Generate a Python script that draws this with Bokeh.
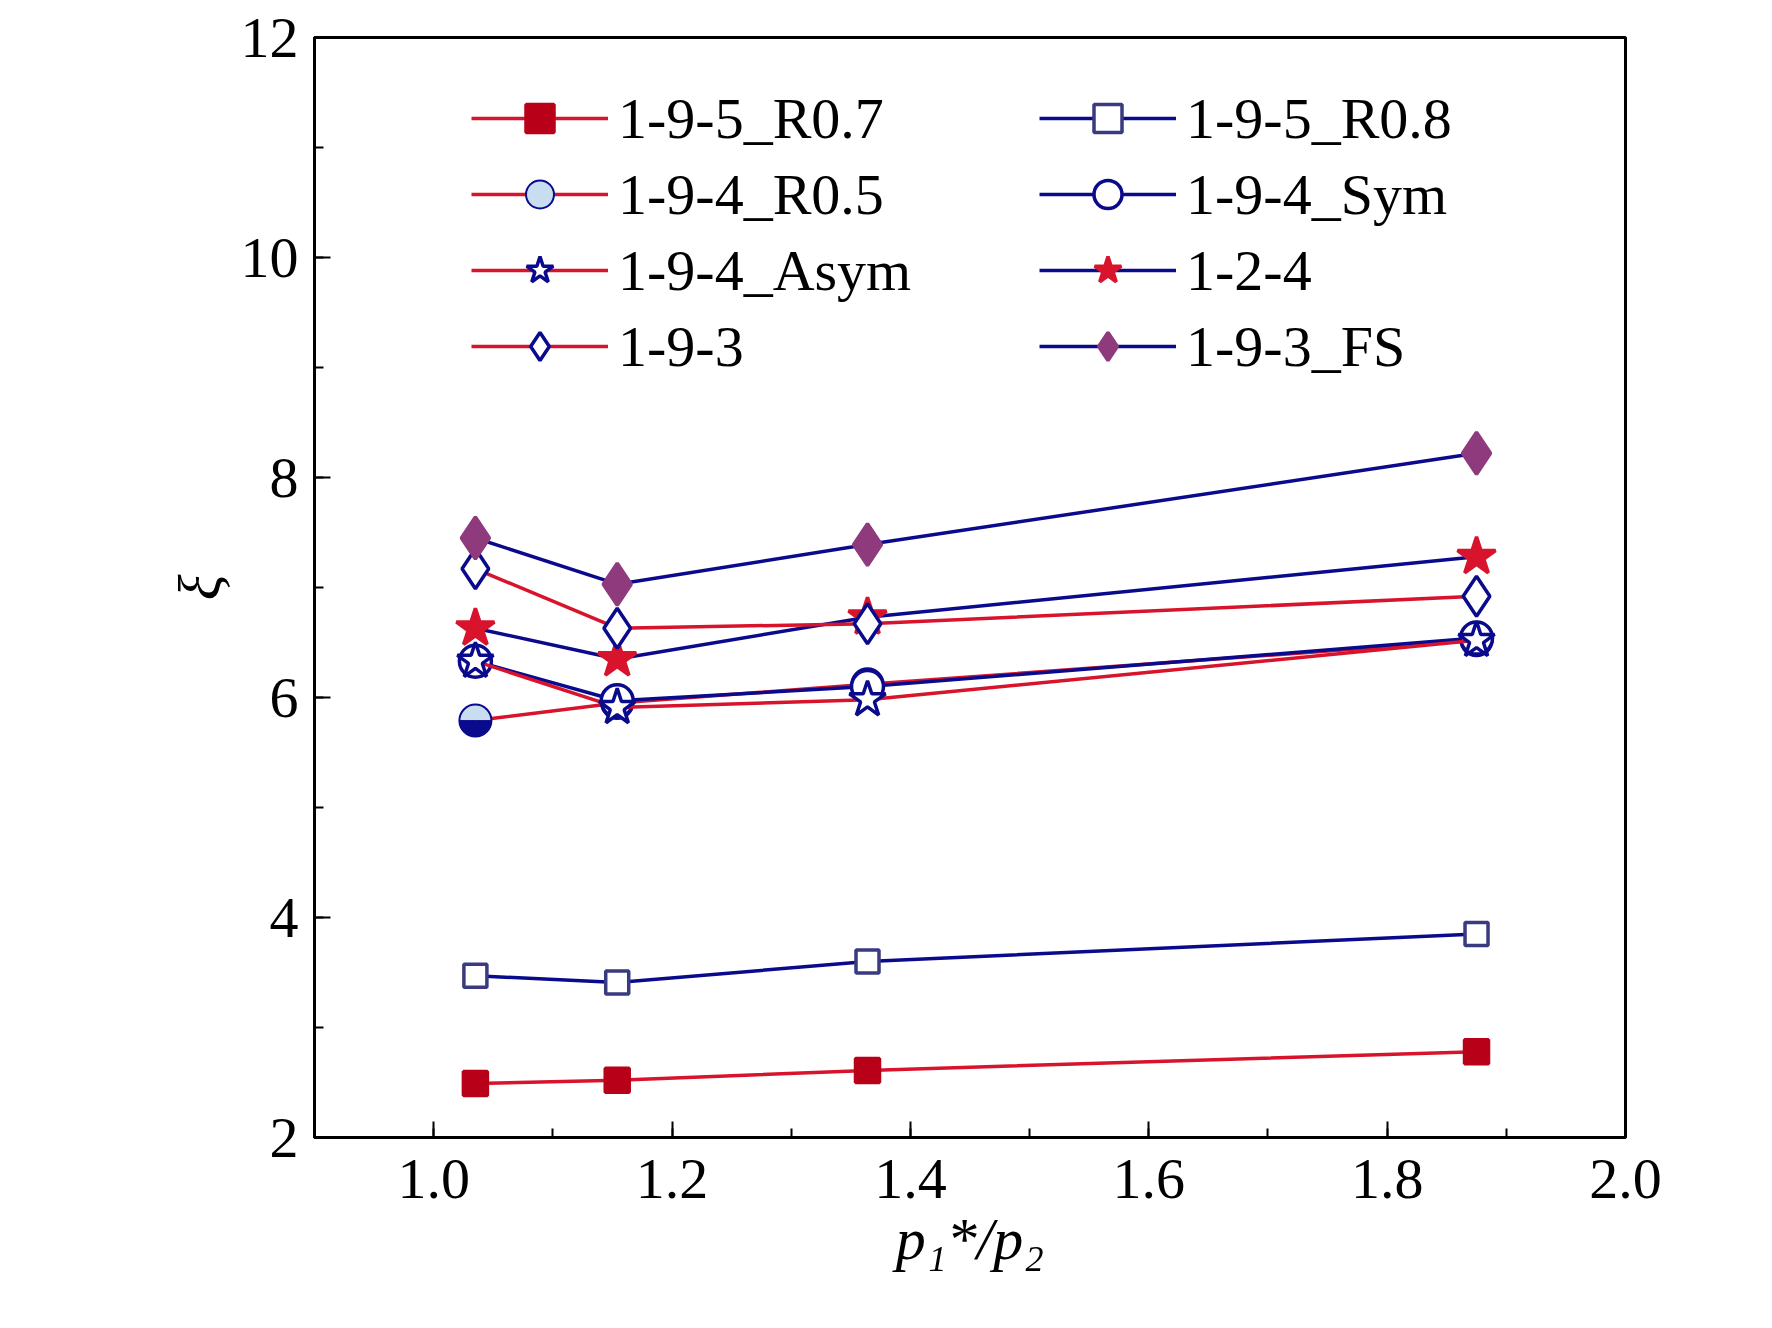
import numpy as np
from bokeh.plotting import figure
from bokeh.models import Legend, LegendItem, Range1d, PrintfTickFormatter
from bokeh.embed import file_html
from bokeh.resources import INLINE

x = [1.035, 1.154, 1.364, 1.875]
r07 = [2.49, 2.52, 2.61, 2.78]
r08 = [3.47, 3.41, 3.60, 3.85]
r05 = [5.79, 5.95, 6.12, 6.52]
sym = [6.33, 5.97, 6.10, 6.54]
asym = [6.33, 5.91, 5.98, 6.52]
s124 = [6.63, 6.35, 6.73, 7.28]
s193 = [7.17, 6.63, 6.67, 6.92]
fs = [7.45, 7.03, 7.39, 8.22]

RED = "#d8142c"
NAVY = "#0a0a8c"
FONT = "Liberation Serif"

p = figure(width=1756, height=1320, output_backend="svg", toolbar_location=None,
           x_range=Range1d(0.9, 2.0), y_range=Range1d(2, 12),
           min_border_left=314, min_border_right=131, min_border_top=37, min_border_bottom=183)
p.grid.visible = False
p.outline_line_color = "black"
p.outline_line_width = 3

for ax in [p.xaxis[0], p.yaxis[0]]:
    ax.axis_line_width = 3
    ax.major_tick_in = 16; ax.major_tick_out = 0
    ax.minor_tick_in = 9; ax.minor_tick_out = 0
    ax.major_tick_line_width = 2; ax.minor_tick_line_width = 2
    ax.major_label_text_font = FONT
    ax.major_label_text_font_size = "58px"
    ax.major_label_text_color = "black"
    ax.axis_label_text_font = FONT
    ax.axis_label_text_font_size = "60px"
    ax.axis_label_text_font_style = "italic"
    ax.axis_label_text_color = "black"
p.xaxis[0].ticker.num_minor_ticks = 2
p.yaxis[0].ticker.num_minor_ticks = 2
p.xaxis.formatter = PrintfTickFormatter(format="%.1f")
p.xaxis.axis_label = "p₁*/p₂"
p.yaxis.axis_label = "ξ"
p.xaxis.major_label_standoff = 22
p.yaxis.major_label_standoff = 16

def series(ys, color, marker, fill, size, mline):
    l = p.line(x, ys, line_color=color, line_width=3.5)
    m = p.scatter(x, ys, marker=marker, size=size, line_color=mline, fill_color=fill, line_width=3.5)
    return [l, m]

rs = {}
rs["1-9-5_R0.7"] = series(r07, RED, "square", "#b80018", 24, "#b80018")
rs["1-9-5_R0.8"] = series(r08, NAVY, "square", "white", 23, "#3a3a80")
l = p.line(x, r05, line_color=RED, line_width=3.5)
c = p.scatter(x, r05, marker="circle", size=32, fill_color="#c8def0", line_color=NAVY, line_width=2)
p.wedge(x, r05, radius=16, radius_units="screen", start_angle=np.pi, end_angle=2*np.pi,
        fill_color=NAVY, line_color=NAVY)
rs["1-9-4_R0.5"] = [l, c]
rs["1-9-4_Sym"] = series(sym, NAVY, "circle", "white", 32, NAVY)
rs["1-9-4_Asym"] = series(asym, RED, "star", "white", 38, NAVY)
rs["1-2-4"] = series(s124, NAVY, "star", RED, 40, RED)
rs["1-9-3"] = series(s193, RED, "diamond", "white", 40, NAVY)
rs["1-9-3_FS"] = series(fs, NAVY, "diamond", "#8e3a7c", 42, "#8e3a7c")

order = ["1-9-5_R0.7", "1-9-4_R0.5", "1-9-4_Asym", "1-9-3",
         "1-9-5_R0.8", "1-9-4_Sym", "1-2-4", "1-9-3_FS"]
legend = Legend(items=[LegendItem(label=k, renderers=rs[k]) for k in order],
                location=(157, 756), ncols=2, border_line_color=None, background_fill_alpha=0,
                label_text_font=FONT, label_text_font_size="58px", label_text_color="black",
                glyph_width=137, glyph_height=70, label_width=415,
                spacing=6, label_standoff=10, padding=4, margin=0)
p.add_layout(legend, "center")

open("out.html", "w").write(file_html(p, INLINE))
